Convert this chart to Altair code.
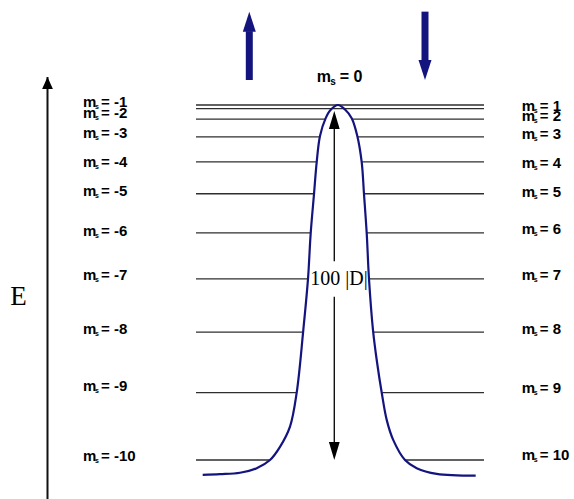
import altair as alt
import pandas as pd

# ---------------- data (energies in units of |D|, x in arbitrary units) ----------------
level_m = [0, 1, 2, 3, 4, 5, 6, 7, 8, 9, 10]
level_E = [0, -1, -4, -9, -16, -25, -36, -49, -64, -81, -100]
level_x_start = -14.2
level_x_end = 14.6

left_text = ["= -1", "= -2", "= -3", "= -4", "= -5", "= -6", "= -7", "= -8", "= -9", "= -10"]
left_label_E = [0.85, -2.25, -7.9, -16.1, -24.2, -35.5, -47.9, -63.1, -79.2, -98.9]
right_text = ["= 1", "= 2", "= 3", "= 4", "= 5", "= 6", "= 7", "= 8", "= 9", "= 10"]
right_label_E = [-0.3, -3.1, -8.2, -16.2, -24.5, -34.9, -47.9, -63.1, -79.7, -98.6]
left_label_x = -25.5
right_label_x = 18.37

curve_x = [-13.53, -11.8, -9.8, -8.13, -6.8, -5.8, -4.8, -4.13, -3.47, -3.0, -2.73, -2.4, -2.13,
           -1.8, -1.23, -0.75, 0.0, 0.75, 1.37, 1.93, 2.37, 2.6, 2.87, 3.1, 3.5, 3.9, 4.37, 4.87,
           5.53, 6.7, 7.87, 9.87, 13.77]
curve_E = [-104.2, -104.0, -103.6, -102.3, -100.0, -96.3, -90.6, -81.0, -63.4, -49.0, -36.1, -25.1,
           -16.1, -8.7, -3.7, -1.4, 0.0, -1.4, -3.7, -8.7, -16.1, -25.1, -36.1, -49.0, -63.4, -72.4,
           -81.0, -88.7, -94.4, -100.0, -102.3, -103.9, -104.4]
curve_base = -105

# double arrow (100|D|)
barrier_x = -0.37
barrier_top_E = -1.7
barrier_bottom_E = -100.0
barrier_shaft_y = [-5.0, -54.0]
barrier_shaft_y2 = [-44.0, -96.0]
barrier_text = "100 |D|"
barrier_text_E = -49.0
barrier_text_x = 0.1

# energy axis arrow
e_axis_x = -29.05
e_axis_bottom = -111.0
e_axis_tip = 7.9
e_label_x = -31.95
e_label_E = -54.1

# spin arrows at the top
spin_x = [-8.87, 8.7]
spin_shaft_from = [7.04, 26.3]
spin_shaft_to = [20.8, 12.1]
spin_tip = [26.3, 7.04]
spin_dir = ["up", "down"]

top_label_x = -2.13
top_label_E = 7.9

# ---------------- chart ----------------
xs = alt.Scale(domain=[-33.8, 23.6], nice=False, zero=False)
ys = alt.Scale(domain=[-110.99, 29.58], nice=False, zero=False)


def X(f):
    return alt.X(f, type="quantitative", scale=xs, axis=None)


def Y(f):
    return alt.Y(f, type="quantitative", scale=ys, axis=None)


levels = pd.DataFrame({"m": level_m, "E": level_E,
                       "x1": [level_x_start] * len(level_m), "x2": [level_x_end] * len(level_m)})
curve = pd.DataFrame({"x": curve_x, "E": curve_E, "base": [curve_base] * len(curve_x)})

line_color = "#2e2e2e"
navy = "#14147f"

lines_low = alt.Chart(levels).transform_filter("datum.m >= 2").mark_rule(
    color=line_color, strokeWidth=1.3).encode(x=X("x1"), x2="x2", y=Y("E"))
lines_top = alt.Chart(levels).transform_filter("datum.m < 2").mark_rule(
    color=line_color, strokeWidth=1.3).encode(x=X("x1"), x2="x2", y=Y("E"))

fill = alt.Chart(curve).mark_area(color="white", opacity=1, interpolate="catmull-rom").encode(
    x=X("x"), y=Y("E"), y2="base")
curve_line = alt.Chart(curve).mark_line(color=navy, strokeWidth=2.2, interpolate="catmull-rom").encode(
    x=X("x"), y=Y("E"))

shaft = pd.DataFrame({"x": [barrier_x] * 2, "y1": barrier_shaft_y, "y2": barrier_shaft_y2})
shaft_layer = alt.Chart(shaft).mark_rule(color="#111111", strokeWidth=1.4).encode(
    x=X("x"), y=Y("y1"), y2="y2")
heads = pd.DataFrame({"x": [barrier_x, barrier_x], "E": [barrier_top_E, barrier_bottom_E],
                      "d": ["up", "down"]})
head_up = alt.Chart(heads).transform_filter("datum.d == 'up'").mark_point(
    shape="M0,0L-0.6,2L0.6,2Z", size=324, filled=True, color="black", opacity=1, strokeWidth=0
).encode(x=X("x"), y=Y("E"))
head_down = alt.Chart(heads).transform_filter("datum.d == 'down'").mark_point(
    shape="M0,0L-0.6,-2L0.6,-2Z", size=324, filled=True, color="black", opacity=1, strokeWidth=0
).encode(x=X("x"), y=Y("E"))

btext = alt.Chart(pd.DataFrame({"x": [barrier_text_x], "E": [barrier_text_E], "t": [barrier_text]})).mark_text(
    font="Liberation Serif", fontSize=20, color="black", align="center", baseline="middle"
).encode(x=X("x"), y=Y("E"), text="t:N")

# energy axis
eax = pd.DataFrame({"x": [e_axis_x], "y1": [e_axis_bottom], "y2": [e_axis_tip]})
eax_rule = alt.Chart(eax).mark_rule(color="#111111", strokeWidth=2).encode(x=X("x"), y=Y("y1"), y2="y2")
eax_head = alt.Chart(eax).mark_point(
    shape="M0,0L-0.9,2L0.9,2Z", size=144, filled=True, color="black", opacity=1, strokeWidth=0
).encode(x=X("x"), y=Y("y2"))
elabel = alt.Chart(pd.DataFrame({"x": [e_label_x], "E": [e_label_E], "t": ["E"]})).mark_text(
    font="Liberation Serif", fontSize=27, color="black", align="center", baseline="middle"
).encode(x=X("x"), y=Y("E"), text="t:N")

# spin arrows
spins = pd.DataFrame({"x": spin_x, "y1": spin_shaft_from, "y2": spin_shaft_to, "tip": spin_tip, "d": spin_dir})
spin_rule = alt.Chart(spins).mark_rule(color=navy, strokeWidth=7).encode(x=X("x"), y=Y("y1"), y2="y2")
spin_up = alt.Chart(spins).transform_filter("datum.d == 'up'").mark_point(
    shape="M0,0L-0.65,2L0.65,2Z", size=400, filled=True, color=navy, opacity=1, strokeWidth=0
).encode(x=X("x"), y=Y("tip"))
spin_down = alt.Chart(spins).transform_filter("datum.d == 'down'").mark_point(
    shape="M0,0L-0.65,-2L0.65,-2Z", size=400, filled=True, color=navy, opacity=1, strokeWidth=0
).encode(x=X("x"), y=Y("tip"))

# level labels
labels = pd.DataFrame({
    "x": [left_label_x] * len(left_text) + [right_label_x] * len(right_text),
    "E": left_label_E + right_label_E,
    "t": left_text + right_text,
})
lab_font = "Liberation Sans"
lab_m = alt.Chart(labels).mark_text(text="m", font=lab_font, fontWeight="bold", fontSize=15,
                                    align="left", baseline="middle", color="black").encode(x=X("x"), y=Y("E"))
lab_s = alt.Chart(labels).mark_text(text="s", font=lab_font, fontWeight="bold", fontSize=7,
                                    align="left", baseline="middle", dx=12, dy=5, color="black").encode(x=X("x"), y=Y("E"))
lab_t = alt.Chart(labels).mark_text(font=lab_font, fontWeight="bold", fontSize=15, align="left",
                                    baseline="middle", dx=18, color="black").encode(x=X("x"), y=Y("E"), text="t:N")

top = pd.DataFrame({"x": [top_label_x], "E": [top_label_E], "t": ["= 0"]})
top_m = alt.Chart(top).mark_text(text="m", font=lab_font, fontWeight="bold", fontSize=16,
                                 align="left", baseline="middle", color="black").encode(x=X("x"), y=Y("E"))
top_s = alt.Chart(top).mark_text(text="s", font=lab_font, fontWeight="bold", fontSize=10,
                                  align="left", baseline="middle", dx=13.5, dy=5, color="black").encode(x=X("x"), y=Y("E"))
top_t = alt.Chart(top).mark_text(font=lab_font, fontWeight="bold", fontSize=16, align="left",
                                 baseline="middle", dx=23, color="black").encode(x=X("x"), y=Y("E"), text="t:N")

chart = alt.layer(
    lines_low, fill, lines_top, curve_line,
    shaft_layer, head_up, head_down, btext,
    eax_rule, eax_head, elabel,
    spin_rule, spin_up, spin_down,
    lab_m, lab_s, lab_t, top_m, top_s, top_t,
).properties(
    width=574, height=499, padding=0,
    autosize=alt.AutoSizeParams(type="none"),
    background="white",
).configure_view(strokeWidth=0)

chart.save("out.html", embed_options={"renderer": "svg", "actions": False})
